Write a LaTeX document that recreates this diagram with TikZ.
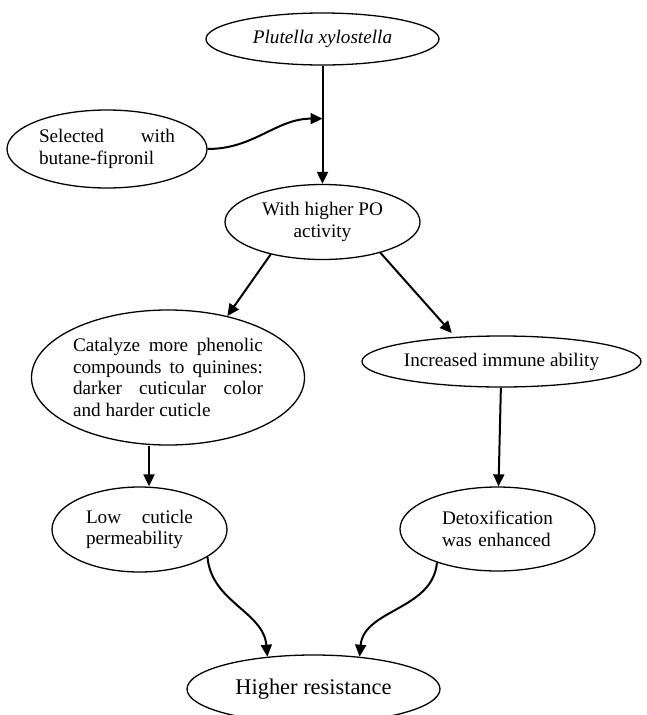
\documentclass[tikz,border=0pt]{standalone}
\usepackage{fontspec}
\setmainfont{Liberation Serif}
\usepackage{tikz}
\usetikzlibrary{shapes.geometric,positioning,arrows.meta}

\begin{document}
\begin{tikzpicture}[x=1pt,y=1pt,on grid,
  >={Triangle[length=12pt,width=11pt]},
  bubble/.style={ellipse,draw,line width=1.3pt,inner sep=0pt,
    font=\fontsize{19.2}{21.5}\selectfont},
  flow/.style={->,line width=2pt}]
\useasboundingbox (0,0) rectangle (647,-715);
\node[bubble,minimum width=233pt,minimum height=52pt] (plut) at (322.5,-39) {\textit{Plutella xylostella}};
\node[bubble,minimum width=200pt,minimum height=78pt,text width=136pt,align=justify] (sel) [below left=110pt and 215.5pt of plut] {Selected with\linebreak butane-fipronil};
\node[bubble,minimum width=195pt,minimum height=75pt,align=center] (po) [below=183pt of plut] {With higher PO\\activity};
\node[bubble,minimum width=273pt,minimum height=135pt,text width=190pt,align=justify] (cat) [below left=155.5pt and 154.5pt of po] {Catalyze more phenolic\linebreak compounds to quinines:\linebreak darker cuticular color\linebreak and harder cuticle};
\node[bubble,minimum width=279pt,minimum height=51pt] (inc) [below right=139.5pt and 179pt of po] {Increased immune ability};
\node[bubble,minimum width=175pt,minimum height=85pt,text width=107pt,align=justify] (low) [below left=152pt and 28.5pt of cat] {Low cuticle\linebreak permeability};
\node[bubble,minimum width=195pt,minimum height=84pt,text width=111pt,align=left] (detox) [below left=167.5pt and 4pt of inc] {Detoxification\\was enhanced};
\node[bubble,minimum width=253pt,minimum height=68pt,font=\fontsize{22.4}{26}\selectfont] (res) [below right=159.5pt and 174pt of low] {Higher resistance};
\coordinate (join) at ([yshift=-53pt]plut.south);
\path[flow]
  (plut) edge (po)
  (sel.east) edge[out=0,in=180] (join)
  (po.212) edge (cat.46)
  (po.-28) edge[shorten >=5pt] (inc.152)
  (inc) edge (detox)
  ([xshift=-19pt]cat.south) edge ([xshift=9.5pt]low.north)
  (low.-22) edge[out=-85,in=95] (res.145)
  (detox.209) edge[out=-95,in=85] (res.35);
\end{tikzpicture}
\end{document}
